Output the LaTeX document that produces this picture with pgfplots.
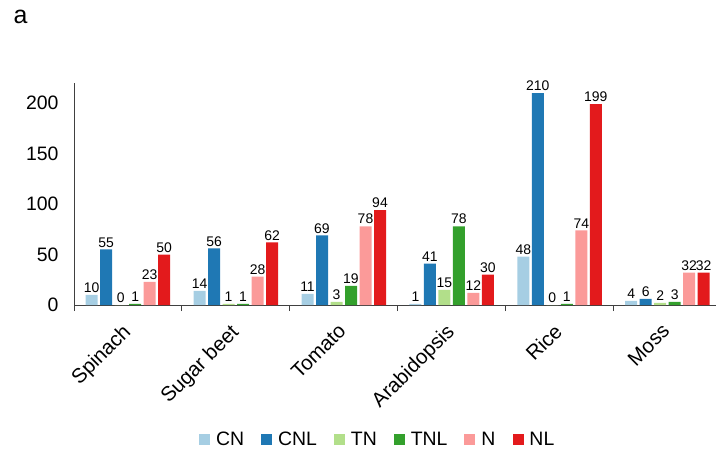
\documentclass[border=0pt]{standalone}
\usepackage{pgfplots}
\pgfplotsset{compat=1.18}
\usepackage{fontspec}
\setmainfont{Liberation Sans}

% Paired palette
\definecolor{cCN}{HTML}{A6CEE3}
\definecolor{cCNL}{HTML}{1F78B4}
\definecolor{cTN}{HTML}{B2DF8A}
\definecolor{cTNL}{HTML}{33A02C}
\definecolor{cN}{HTML}{FB9A99}
\definecolor{cNL}{HTML}{E31A1C}
\definecolor{axisgray}{HTML}{404040}

\begin{document}
\begin{tikzpicture}
\path[use as bounding box] (0,0) rectangle (717bp,449bp);
\node[anchor=base west, font=\fontsize{25}{25}\selectfont] at (10bp,425bp) {a};
\begin{axis}[
  at={(74bp,144bp)}, anchor=south west,
  scale only axis, width=642bp, height=222bp,
  xmin=-0.5, xmax=5.45, ymin=0, ymax=220,
  enlargelimits=false, clip=false,
  ybar, bar width=12bp,
  axis x line=bottom, axis y line=left,
  axis line style={-, draw=axisgray, line width=1bp},
  /pgf/number format/assume math mode=true,
  xtick={0,...,5},
  xticklabels={Spinach,Sugar beet,Tomato,Arabidopsis,Rice,Moss},
  minor xtick={-0.5,0.5,...,4.5},
  ytick={0,50,...,200},
  major tick length=0pt, minor tick length=6bp,
  tick align=outside,
  minor tick style={draw=axisgray, line width=1bp},
  tick label style={font=\fontsize{19.5}{20}\selectfont, text=black},
  xticklabel style={font=\fontsize{20.5}{21}\selectfont, rotate=45, anchor=north east, inner sep=0pt, xshift=-17bp, yshift=-7.5bp},
  yticklabel style={xshift=-12bp},
  nodes near coords,
  every node near coord/.append style={font=\fontsize{14}{14}\selectfont, text=black, inner sep=2bp},
  legend columns=6,
  legend style={draw=none, fill=none, at={(0.473,-0.604)}, anchor=center,
    font=\fontsize{19.5}{20}\selectfont,
    /tikz/every odd column/.append style={column sep=4bp},
    /tikz/every even column/.append style={column sep=15bp}},
  legend image code/.code={\fill[#1] (0bp,-5.5bp) rectangle (11bp,5.5bp);},
]
\addplot[fill=cCN, draw=none, bar shift=-36.25bp] coordinates {(0,10) (1,14) (2,11) (3,1) (4,48) (5,4)};
\addplot[fill=cCNL, draw=none, bar shift=-21.75bp] coordinates {(0,55) (1,56) (2,69) (3,41) (4,210) (5,6)};
\addplot[fill=cTN, draw=none, bar shift=-7.25bp] coordinates {(0,0) (1,1) (2,3) (3,15) (4,0) (5,2)};
\addplot[fill=cTNL, draw=none, bar shift=7.25bp] coordinates {(0,1) (1,1) (2,19) (3,78) (4,1) (5,3)};
\addplot[fill=cN, draw=none, bar shift=21.75bp] coordinates {(0,23) (1,28) (2,78) (3,12) (4,74) (5,32)};
\addplot[fill=cNL, draw=none, bar shift=36.25bp] coordinates {(0,50) (1,62) (2,94) (3,30) (4,199) (5,32)};
\legend{CN,CNL,TN,TNL,N,NL}
\end{axis}
\end{tikzpicture}
\end{document}
